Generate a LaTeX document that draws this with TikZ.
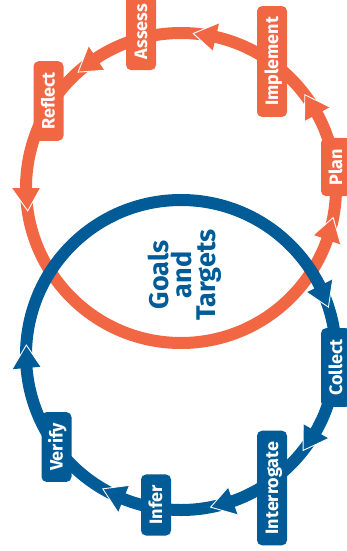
\documentclass[tikz,border=0pt]{standalone}
\usepackage{fontspec}
\setmainfont{Fira Sans}
\usetikzlibrary{calc}

\definecolor{orng}{RGB}{241,103,67}
\definecolor{navy}{RGB}{0,91,150}

% arrowhead sitting on a ring: #1 centre, #2 tip angle, #3 back angle, #4 colour
\newcommand\ringhead[4]{%
  \fill[#4] ($(#1)+(#2:155pt)$) -- ($(#1)+(#3:169.5pt)$) -- ($(#1)+(#3:140.5pt)$) -- cycle;
  \draw[white, line width=0.9pt, line join=miter]
    ($(#1)+(#3:169.5pt)$) -- ($(#1)+(#2:155pt)$) -- ($(#1)+(#3:140.5pt)$);
}

\begin{document}
\begin{tikzpicture}[x=1pt, y=-1pt,
  ring/.style={line width=12pt},
  tag/.style={rotate=90, rounded corners=5pt, text=white, anchor=center,
    font=\bfseries\fontsize{18}{18}\selectfont,
    text height=16pt, text depth=3.6pt,
    minimum height=30pt, inner xsep=11pt, inner ysep=0pt},
  otag/.style={tag, fill=orng},
  btag/.style={tag, fill=navy},
  hub/.style={rotate=90, text=navy, align=center,
    font=\bfseries\fontsize{27}{23.5}\selectfont}]

\useasboundingbox (0,0) rectangle (347,551);

\coordinate (O) at (181,188);
\coordinate (B) at (181,355);

% upper cycle
\draw[ring, orng] (O) circle[radius=155pt];
\ringhead{O}{-11}{-19.5}{orng}
\ringhead{O}{37}{28.5}{orng}
\ringhead{O}{85.5}{77}{orng}
\ringhead{O}{131.6}{123.1}{orng}
\ringhead{O}{188.5}{180}{orng}

\node[otag] (plan)      at (336,167)   {Plan};
\node[otag] (implement) at (272,61.5)  {Implement};
\node[otag] (assess)    at (141,31.5)  {Assess};
\node[otag] (reflect)   at (48.5,101)  {Reflect};

% lower cycle
\draw[ring, navy] (B) circle[radius=155pt];
\ringhead{B}{18}{26.5}{navy}
\ringhead{B}{-38}{-29.5}{navy}
\ringhead{B}{-79}{-70.5}{navy}
\ringhead{B}{-120.3}{-111.8}{navy}
\ringhead{B}{176.3}{184.8}{navy}

\node[btag] (collect)     at (336,367.5) {Collect};
\node[btag] (interrogate) at (272,488)   {Interrogate};
\node[btag] (infer)       at (156,505)   {Infer};
\node[btag] (verify)      at (56.5,447)  {Verify};

\node[hub] (goals) at (184.5,275) {Goals\\and\\Targets};
\end{tikzpicture}
\end{document}
